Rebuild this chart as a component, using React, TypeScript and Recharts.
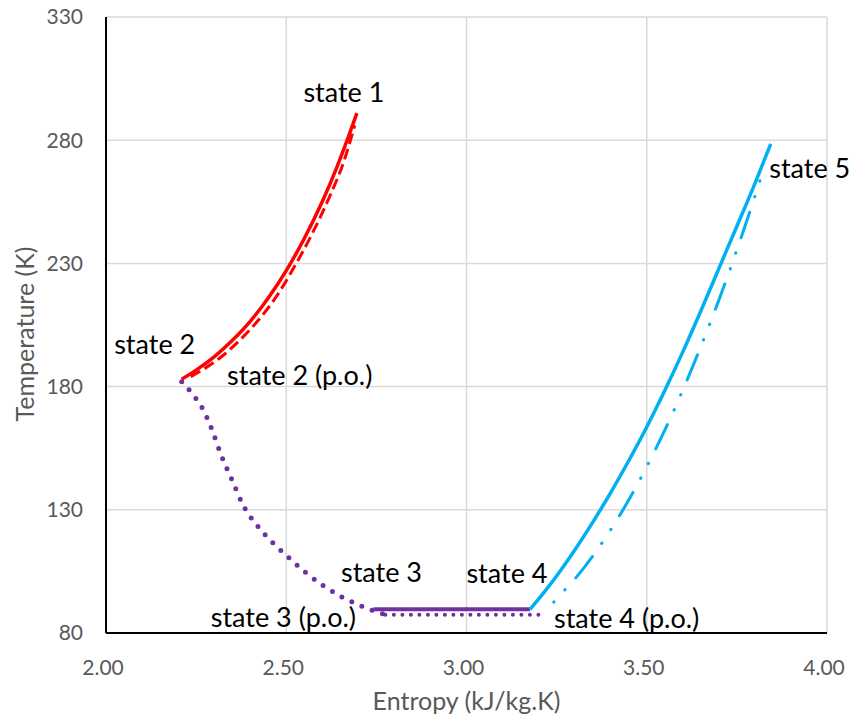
import { CartesianGrid, Line, LineChart, ReferenceDot, XAxis, YAxis } from "recharts";

// T-s path, values (s in kJ/kg.K, T in K)
const redSolidS = [2.21, 2.25, 2.3, 2.35, 2.4, 2.45, 2.5, 2.55, 2.6, 2.64, 2.67, 2.696];
const redSolidT = [183, 186.7, 192.1, 198.7, 206.5, 216, 227.1, 240.1, 255.1, 268.9, 280.4, 291];

const redDashS = [2.235, 2.27, 2.32, 2.37, 2.42, 2.47, 2.52, 2.57, 2.62, 2.66, 2.69];
const redDashT = [184, 187, 192.1, 198.7, 206.5, 216, 228, 241.5, 257, 271.5, 286];

const purpleCurveS = [2.21, 2.24, 2.27, 2.29, 2.32, 2.35, 2.38, 2.42, 2.46, 2.5, 2.55, 2.6, 2.65, 2.7, 2.75, 2.775];
const purpleCurveT = [182, 177, 170.5, 164, 152, 142, 132, 123.5, 117, 111.5, 105, 99.5, 95, 91.5, 88.6, 87.5];

const purpleFlatDotS = [2.775, 3.214];
const purpleFlatDotT = [87.4, 87.4];

const purpleSolidS = [2.742, 3.176];
const purpleSolidT = [89.6, 89.6];

const blueSolidS = [3.176, 3.22, 3.26, 3.3, 3.35, 3.4, 3.45, 3.5, 3.55, 3.6, 3.65, 3.7, 3.75, 3.8, 3.844];
const blueSolidT = [89.6, 97.4, 105.2, 113.6, 124.9, 137, 149.9, 163.6, 178.4, 194.1, 210.7, 227.9, 245.1, 262.4, 278.5];

const blueDashS = [3.214, 3.25, 3.3, 3.35, 3.4, 3.45, 3.5, 3.55, 3.6, 3.65, 3.7, 3.75, 3.8, 3.825];
const blueDashT = [87.4, 93.9, 101.8, 111.2, 121.9, 134, 147.5, 162.3, 178.6, 196.2, 215.1, 235.5, 257.2, 268.6];

const xTicks = [2, 2.5, 3, 3.5, 4];
const yTicks = [80, 130, 180, 230, 280, 330];

const stateNames = [
  "state 1",
  "state 2",
  "state 2 (p.o.)",
  "state 3",
  "state 3 (p.o.)",
  "state 4",
  "state 4 (p.o.)",
  "state 5",
];

const pts = (s: number[], t: number[]) => s.map((x, i) => ({ s: x, T: t[i] }));

const redSolid = pts(redSolidS, redSolidT);
const redDash = pts(redDashS, redDashT);
const purpleCurve = pts(purpleCurveS, purpleCurveT);
const purpleFlatDot = pts(purpleFlatDotS, purpleFlatDotT);
const purpleSolid = pts(purpleSolidS, purpleSolidT);
const blueSolid = pts(blueSolidS, blueSolidT);
const blueDash = pts(blueDashS, blueDashT);

const first = (a: { s: number; T: number }[]) => a[0];
const last = (a: { s: number; T: number }[]) => a[a.length - 1];

const anchors = [
  last(redSolid),
  first(redSolid),
  first(redDash),
  first(purpleSolid),
  last(purpleCurve),
  last(purpleSolid),
  last(purpleFlatDot),
  last(blueSolid),
];

// label offsets (px) from the anchor point to the text baseline centre
const labelOffsets = [
  [-13, -11],
  [-27, -25],
  [109, 8],
  [8, -27],
  [-102, 12],
  [-23, -26],
  [83, 13],
  [39, 34],
];

const FONT = "Lato, 'Open Sans', sans-serif";
const RED = "#FF0000";
const BLUE = "#00B0F0";
const PURPLE = "#7030A0";

export default function App() {
  return (
    <div style={{ position: "absolute", left: 0, top: 0, background: "#fff" }}>
      <LineChart
        width={849}
        height={720}
        margin={{ top: 17, right: 22, left: 0, bottom: 0 }}
        style={{ fontFamily: FONT }}
      >
        <CartesianGrid stroke="#D9D9D9" strokeWidth={1.5} />
        <XAxis
          dataKey="s"
          type="number"
          domain={[2, 4]}
          ticks={xTicks}
          interval={0}
          allowDataOverflow
          tickFormatter={(v: number) => v.toFixed(2)}
          tickLine={false}
          tickSize={0}
          tickMargin={27}
          height={87}
          axisLine={{ stroke: "#000", strokeWidth: 2 }}
          tick={{ fill: "#595959", fontSize: 21, dx: -3 }}
          label={{
            value: "Entropy (kJ/kg.K)",
            position: "insideBottom",
            offset: 10,
            fill: "#595959",
            fontSize: 25,
          }}
        />
        <YAxis
          dataKey="T"
          type="number"
          domain={[80, 330]}
          ticks={yTicks}
          interval={0}
          allowDataOverflow
          tickLine={false}
          tickSize={0}
          tickMargin={23}
          width={106}
          axisLine={{ stroke: "#000", strokeWidth: 2 }}
          tick={{ fill: "#595959", fontSize: 21 }}
          label={{
            content: () => (
              <text
                x={24}
                y={334}
                transform="rotate(-90 24 334)"
                textAnchor="middle"
                dominantBaseline="central"
                fill="#595959"
                fontSize={25}
                fontFamily={FONT}
              >
                Temperature (K)
              </text>
            ),
          }}
        />
        <Line data={redDash} dataKey="T" type="monotone" stroke={RED} strokeWidth={3} strokeDasharray="11 5" dot={false} activeDot={false} isAnimationActive={false} />
        <Line data={purpleCurve} dataKey="T" type="monotone" stroke={PURPLE} strokeWidth={5} strokeDasharray="0 11" strokeLinecap="round" dot={false} activeDot={false} isAnimationActive={false} />
        <Line data={purpleFlatDot} dataKey="T" type="linear" stroke={PURPLE} strokeWidth={4} strokeDasharray="0 8.5" strokeLinecap="round" dot={false} activeDot={false} isAnimationActive={false} />
        <Line data={blueDash} dataKey="T" type="monotone" stroke={BLUE} strokeWidth={3} strokeDasharray="27 16 0.5 16 0.5 16" strokeDashoffset={27} strokeLinecap="round" dot={false} activeDot={false} isAnimationActive={false} />
        <Line data={redSolid} dataKey="T" type="monotone" stroke={RED} strokeWidth={3.5} dot={false} activeDot={false} isAnimationActive={false} />
        <Line data={purpleSolid} dataKey="T" type="linear" stroke={PURPLE} strokeWidth={4} dot={false} activeDot={false} isAnimationActive={false} />
        <Line data={blueSolid} dataKey="T" type="monotone" stroke={BLUE} strokeWidth={3.5} dot={false} activeDot={false} isAnimationActive={false} />
        {anchors.map((a, i) => (
          <ReferenceDot
            key={stateNames[i]}
            x={a.s}
            y={a.T}
            r={0}
            fill="none"
            stroke="none"
            label={(p: any) => (
              <text
                x={p.viewBox.x + labelOffsets[i][0]}
                y={p.viewBox.y + labelOffsets[i][1]}
                textAnchor="middle"
                fill="#000"
                fontSize={27}
                fontFamily={FONT}
              >
                {stateNames[i]}
              </text>
            )}
          />
        ))}
      </LineChart>
    </div>
  );
}
